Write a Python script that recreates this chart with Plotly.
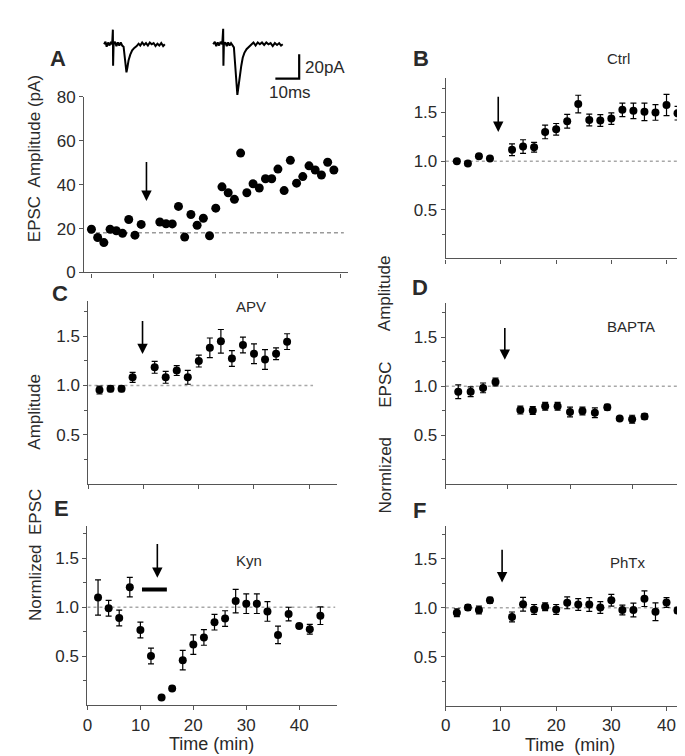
import plotly.graph_objects as go

W, H = 685, 756

# ---------------- data ----------------
# Panel A: single-cell EPSC amplitude (pA) vs time (min)
A_time = [0, 1, 2, 3, 4, 5, 6, 7, 8,
          11, 12, 13, 14, 15, 16, 17, 18, 19, 20,
          21, 22, 23, 24, 25, 26, 27, 28, 29, 30,
          31, 32, 33, 34, 35, 36, 37, 38, 39]
A_amp = [19.7, 15.9, 13.6, 19.7, 19.0, 17.8, 24.1, 17.0, 21.9,
         23.0, 22.2, 22.1, 30.1, 16.1, 26.4, 21.5, 24.7, 16.7, 29.3,
         39.0, 36.3, 33.3, 54.4, 36.3, 40.4, 38.5, 42.7, 42.7, 47.1,
         37.3, 51.1, 40.7, 43.7, 48.6, 46.7, 44.4, 50.2, 46.7]
A_base = 18.1

# Panel B: Ctrl
B_time = [2, 4, 6, 8, 12, 14, 16, 18, 20, 22, 24, 26, 28, 30, 32, 34, 36, 38, 40, 42, 44]
B_mean = [1.00, 0.977, 1.05, 1.027, 1.117, 1.15, 1.143, 1.30, 1.327, 1.41, 1.587,
          1.423, 1.417, 1.437, 1.527, 1.517, 1.507, 1.50, 1.577, 1.493, 1.533]
B_err = [0.015, 0.015, 0.02, 0.02, 0.06, 0.07, 0.05, 0.07, 0.06, 0.07, 0.09,
         0.06, 0.06, 0.06, 0.07, 0.08, 0.09, 0.08, 0.11, 0.07, 0.07]

# Panel C: APV
C_time = [2, 4, 6, 8, 12, 14, 16, 18, 20, 22, 24, 26, 28, 30, 32, 34, 36]
C_mean = [0.954, 0.967, 0.967, 1.083, 1.185, 1.083, 1.152, 1.083, 1.248,
          1.383, 1.449, 1.274, 1.412, 1.323, 1.264, 1.323, 1.446]
C_err = [0.04, 0.03, 0.03, 0.05, 0.06, 0.06, 0.05, 0.07, 0.06,
         0.10, 0.12, 0.08, 0.08, 0.10, 0.10, 0.06, 0.08]

# Panel D: BAPTA
D_time = [2, 4, 6, 8, 12, 14, 16, 18, 20, 22, 24, 26, 28, 30, 32]
D_mean = [0.944, 0.944, 0.983, 1.043, 0.756, 0.752, 0.795, 0.795, 0.736,
          0.746, 0.729, 0.785, 0.670, 0.663, 0.690]
D_err = [0.07, 0.05, 0.05, 0.04, 0.04, 0.04, 0.04, 0.04, 0.05,
         0.04, 0.05, 0.03, 0.02, 0.04, 0.03]

# Panel E: Kyn
E_time = [2, 4, 6, 8, 10, 12, 14, 16, 18, 20, 22, 24, 26, 28, 30, 32, 34, 36, 38, 40, 42, 44]
E_mean = [1.099, 0.99, 0.89, 1.205, 0.768, 0.503, 0.08, 0.172, 0.46, 0.619, 0.692,
          0.848, 0.884, 1.063, 1.036, 1.036, 0.957, 0.718, 0.93, 0.808, 0.775, 0.914]
E_err = [0.18, 0.08, 0.08, 0.10, 0.08, 0.08, 0.01, 0.02, 0.10, 0.10, 0.08,
         0.08, 0.08, 0.12, 0.10, 0.10, 0.10, 0.09, 0.07, 0.02, 0.05, 0.09]
E_kyn_start, E_kyn_end, E_kyn_level = 10.3, 15.0, 1.18

# Panel F: PhTx
F_time = [2, 4, 6, 8, 12, 14, 16, 18, 20, 22, 24, 26, 28, 30, 32, 34, 36, 38, 40, 42]
F_mean = [0.95, 1.003, 0.977, 1.076, 0.907, 1.036, 0.983, 1.01, 0.983, 1.05,
          1.033, 1.033, 1.003, 1.076, 0.977, 0.977, 1.093, 0.96, 1.053, 0.973]
F_err = [0.04, 0.03, 0.04, 0.03, 0.05, 0.07, 0.05, 0.04, 0.05, 0.06,
         0.06, 0.07, 0.06, 0.06, 0.05, 0.07, 0.08, 0.09, 0.05, 0.03]

# Example EPSC traces (time ms, current pA)
T1_t = [2.8, 3.4, 3.9, 4.5, 5.1, 5.7, 6.2, 6.5, 6.6, 6.8,
        7.4, 8.0, 8.6, 9.2, 9.8, 10.4, 11.0, 11.4, 11.8, 12.2,
        12.6, 13.1, 13.8, 14.6, 15.5, 16.5, 17.3, 18.0, 18.8, 19.6,
        20.4, 21.2, 22.0, 22.8, 23.6, 24.4, 25.2, 26.0, 26.8, 27.6, 28.3]
T1_i = [0, 2, -2, 1.5, -1, 2, 0, 12, -17.6, 0,
        2, -1.5, 1.5, -1, 1.5, -1, -2, -10, -17, -23,
        -19, -13, -8.5, -5, -3, -1.5, 0.5, -1, 1.5, -0.5,
        1, -1, 1.5, 0, 1, -1.5, 0.5, -1, 1, -1.5, 0]
T2_t = [48.6, 49.3, 49.9, 50.5, 51.1, 51.7, 52.4, 52.8, 52.9, 53.1,
        53.7, 54.3, 54.9, 55.5, 56.1, 56.7, 57.3, 57.8, 58.3, 58.75,
        59.2, 59.8, 60.4, 61.0, 61.7, 62.6, 63.6, 64.6, 65.5, 66.4,
        67.3, 68.2, 69.1, 70.0, 70.9, 71.8, 72.7, 73.6, 74.5, 75.4,
        76.3, 77.1, 77.8]
T2_i = [0, 2, -1.5, 1.5, -1, 2, 0, 12.8, -17.6, 0,
        1.5, -1.5, 1.5, -1, 1, -1, -2.5, -16, -32, -41.6,
        -35, -24, -17.6, -11, -7, -4, -2, -0.5, 1.5, -1,
        1.5, 0, 1.5, -0.5, 1.5, 0, 1, -1.5, 1, -0.5,
        1, -1, 0]
SCALE_MS, SCALE_PA = 10, 20

TICKS_X = [0, 10, 20, 30, 40]

# ---------------- helpers ----------------
def px(x):
    return x / W

def py(y):
    return 1 - y / H

FONT = "Liberation Sans, Arial, sans-serif"
AX = "#555555"
TXT = "#2a2a2a"

fig = go.Figure()

def add_panel(n, t, m, e, xr):
    xa, ya = ("x%d" % n if n > 1 else "x"), ("y%d" % n if n > 1 else "y")
    fig.add_trace(go.Scatter(x=[0, xr], y=[1, 1], mode="lines", xaxis=xa, yaxis=ya,
                             line=dict(color="#a8a8a8", width=1.5, dash="dot"),
                             hoverinfo="skip", showlegend=False))
    fig.add_trace(go.Scatter(x=t, y=m, mode="markers", xaxis=xa, yaxis=ya,
                             marker=dict(color="black", size=8),
                             error_y=dict(type="data", array=e, color="black",
                                          thickness=1.2, width=3),
                             cliponaxis=False, showlegend=False))

# Panel A
fig.add_trace(go.Scatter(x=[-0.4, 40.6], y=[A_base, A_base], mode="lines",
                         line=dict(color="#9a9a9a", width=1.5, dash="4px,3px"),
                         hoverinfo="skip", showlegend=False))
fig.add_trace(go.Scatter(x=A_time, y=A_amp, mode="markers",
                         marker=dict(color="black", size=9), showlegend=False))

add_panel(2, B_time, B_mean, B_err, 44.8)
add_panel(3, C_time, C_mean, C_err, 40.7)
add_panel(4, D_time, D_mean, D_err, 37.4)
add_panel(5, E_time, E_mean, E_err, 46.8)
add_panel(6, F_time, F_mean, F_err, 44.8)

# traces (panel 7 hidden axes)
fig.add_trace(go.Scatter(x=T1_t, y=T1_i, mode="lines", xaxis="x7", yaxis="y7",
                         line=dict(color="black", width=2), showlegend=False))
fig.add_trace(go.Scatter(x=T2_t, y=T2_i, mode="lines", xaxis="x7", yaxis="y7",
                         line=dict(color="black", width=2), showlegend=False))
bar_x, bar_y = 84.7, -28.2
fig.add_trace(go.Scatter(x=[bar_x - SCALE_MS, bar_x, bar_x],
                         y=[bar_y, bar_y, bar_y + SCALE_PA], mode="lines",
                         xaxis="x7", yaxis="y7",
                         line=dict(color="black", width=2.2), showlegend=False))

# Kyn bar
fig.add_trace(go.Scatter(x=[E_kyn_start, E_kyn_end], y=[E_kyn_level, E_kyn_level],
                         mode="lines", xaxis="x5", yaxis="y5",
                         line=dict(color="black", width=4), showlegend=False))

# ---------------- axes ----------------
def xax(dom, rng, labels, anchor):
    d = dict(domain=[px(dom[0]), px(dom[1])], range=rng, anchor=anchor,
             showgrid=False, zeroline=False, showline=True, linecolor=AX, linewidth=1.3,
             ticks="outside", ticklen=4, tickcolor=AX, tickwidth=1.2,
             tickvals=TICKS_X, showticklabels=labels,
             tickfont=dict(size=17, color=TXT, family=FONT), fixedrange=True)
    return d

def yax_norm(top, bottom, rng, anchor):
    return dict(domain=[py(bottom), py(top)], range=rng, anchor=anchor,
                showgrid=False, zeroline=False, showline=True, linecolor=AX, linewidth=1.3,
                ticks="outside", ticklen=4, tickcolor=AX, tickwidth=1.2,
                tickvals=[0.5, 1.0, 1.5], ticktext=["0.5", "1.0", "1.5"],
                minor=dict(tickvals=[0.25, 0.75, 1.25, 1.75], ticklen=3,
                           tickcolor=AX, ticks="outside"),
                tickfont=dict(size=17, color=TXT, family=FONT), fixedrange=True)

layout = dict(
    width=W, height=H, margin=dict(l=0, r=0, t=0, b=0),
    paper_bgcolor="white", plot_bgcolor="white", showlegend=False,
    font=dict(family=FONT, color=TXT),
    xaxis=xax((71.7, 337), [-1.17, 41.2], False, "y"),
    yaxis=dict(domain=[py(262), py(82)], range=[0, 80], anchor="x",
               showgrid=False, zeroline=False, showline=True, linecolor=AX, linewidth=1.3,
               ticks="outside", ticklen=4, tickcolor=AX, tickwidth=1.2,
               tickvals=[0, 20, 40, 60, 80],
               tickfont=dict(size=17, color=TXT, family=FONT), fixedrange=True),
    xaxis2=xax((436, 685), [0, 44.8], False, "y2"),
    yaxis2=yax_norm(63, 247.7, [0, 1.85], "x2"),
    xaxis3=xax((76, 326.7), [0, 45.1], False, "y3"),
    yaxis3=yax_norm(291.7, 479, [0, 1.855], "x3"),
    xaxis4=xax((436, 685), [0, 39.8], False, "y4"),
    yaxis4=yax_norm(293, 479, [0, 1.855], "x4"),
    xaxis5=xax((75, 326.7), [0, 47.2], True, "y5"),
    yaxis5=yax_norm(521.7, 706, [0, 1.833], "x5"),
    xaxis6=xax((436, 685), [0, 44.8], True, "y6"),
    yaxis6=yax_norm(521.7, 706.7, [0, 1.837], "x6"),
    xaxis7=dict(domain=[px(85), px(345)], range=[0, 108.33], visible=False,
                anchor="y7", fixedrange=True),
    yaxis7=dict(domain=[py(90), py(0)], range=[-49.6, 22.4], visible=False,
                anchor="x7", fixedrange=True),
)
fig.update_layout(**layout)

# ---------------- annotations ----------------
ann = []

def txt(x, y, s, size=17, bold=False, angle=0):
    ann.append(dict(x=px(x), y=py(y), xref="paper", yref="paper", text=("<b>%s</b>" % s) if bold else s,
                    showarrow=False, textangle=angle, xanchor="center", yanchor="middle",
                    font=dict(size=size, color=TXT, family=FONT)))

for lab, (x, y) in {"A": (45, 43), "B": (411, 43), "C": (47, 284),
                    "D": (410, 277), "E": (49, 504), "F": (409, 506)}.items():
    txt(x, y, lab, size=22, bold=True)

txt(610, 43, "Ctrl", size=15)
txt(240, 297, "APV", size=15)
txt(623, 317, "BAPTA", size=15)
txt(238, 557, "Kyn", size=15)
txt(620, 560, "PhTx", size=15)

txt(314, 52, "20pA", size=17)
txt(279, 77, "10ms", size=17)

txt(200, 746, "Time (min)", size=18)
txt(561, 747, "Time  (min)", size=18)

txt(22, 145, "EPSC  Amplitude (pA)", size=17, angle=-90)
txt(22, 405, "Amplitude", size=17, angle=-90)
txt(22, 552, "Normlized  EPSC", size=17, angle=-90)
txt(375, 283, "Amplitude", size=17, angle=-90)
txt(375, 377, "EPSC", size=17, angle=-90)
txt(375, 470, "Normlized", size=17, angle=-90)

# stimulation arrows (axis coordinates)
def arrow(n, x, y0, y1):
    xa = "x%d" % n if n > 1 else "x"
    ya = "y%d" % n if n > 1 else "y"
    ann.append(dict(x=x, y=y1, ax=x, ay=y0, xref=xa, yref=ya, axref=xa, ayref=ya,
                    text="", showarrow=True, arrowhead=2, arrowsize=1.3,
                    arrowwidth=1.6, arrowcolor="black"))

arrow(1, 8.85, 51, 32.6)
arrow(2, 9.5, 1.677, 1.30)
arrow(3, 9.8, 1.67, 1.32)
arrow(4, 9.5, 1.61, 1.27)
arrow(5, 13.2, 1.66, 1.30)
arrow(6, 10.2, 1.606, 1.258)

fig.update_layout(annotations=ann)

fig.write_html("out.html")
